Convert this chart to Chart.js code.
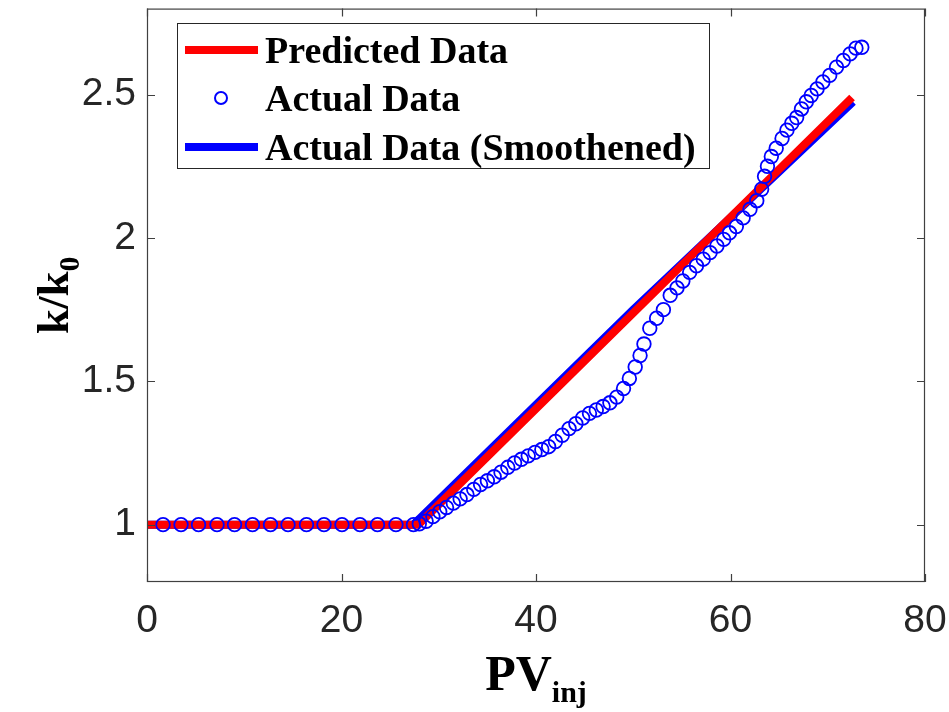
<!DOCTYPE html>
<html>
<head>
<meta charset="utf-8">
<script src="https://cdn.jsdelivr.net/npm/chart.js@4.4.0/dist/chart.umd.min.js"></script>
<style>
  html, body { margin: 0; padding: 0; background: #ffffff; }
  #wrap { width: 949px; height: 712px; position: relative; }
</style>
</head>
<body>
<div id="wrap"><canvas id="chartK"></canvas></div>
<script>
// ---- data ----
const xTicks = [0, 20, 40, 60, 80];
const yTicks = [1, 1.5, 2, 2.5];

const predX = [0, 27.9, 72.5];
const predY = [1, 1, 2.49];

const smoothX = [0, 27.4, 50, 72.6];
const smoothY = [1, 1, 1.75, 2.475];

const actualX = [
  1.65, 3.5, 5.3, 7.2, 9.0, 10.85, 12.7, 14.5, 16.4, 18.2, 20.05, 21.9, 23.7, 25.6, 27.4,
  28.0, 28.7, 29.4, 30.1, 30.8, 31.5, 32.2, 32.9, 33.6, 34.3, 35.0, 35.7, 36.4, 37.1, 37.8,
  38.5, 39.2, 39.9, 40.6, 41.3, 42.0, 42.7, 43.4, 44.1, 44.8, 45.5, 46.2, 46.9, 47.6, 48.3,
  49.0, 49.6, 50.2, 50.7, 51.1, 51.7, 52.4, 53.1, 53.8, 54.5, 55.1, 55.8, 56.5, 57.2, 57.9,
  58.6, 59.3, 59.9, 60.6, 61.3, 62.0, 62.7, 63.2, 63.5, 63.8, 64.2, 64.7, 65.3, 65.8, 66.3,
  66.8, 67.3, 67.8, 68.3, 68.9, 69.5, 70.2, 70.9, 71.6, 72.3, 72.9, 73.5
];
const actualY = [
  1, 1, 1, 1, 1, 1, 1, 1, 1, 1, 1, 1, 1, 1, 1,
  1.003, 1.012, 1.028, 1.045, 1.060, 1.075, 1.090, 1.105, 1.123, 1.140, 1.153, 1.167, 1.183, 1.200, 1.215,
  1.228, 1.240, 1.252, 1.262, 1.272, 1.290, 1.312, 1.335, 1.352, 1.372, 1.388, 1.400, 1.412, 1.425, 1.445,
  1.475, 1.51, 1.55, 1.59, 1.63, 1.685, 1.72, 1.75, 1.80, 1.826, 1.85, 1.88, 1.903, 1.926, 1.949,
  1.972, 1.995, 2.018, 2.04, 2.07, 2.10, 2.13, 2.17, 2.215, 2.25, 2.284, 2.313, 2.347, 2.376, 2.40,
  2.42, 2.45, 2.475, 2.497, 2.52, 2.544, 2.567, 2.596, 2.619, 2.642, 2.662, 2.665
];

const legendItems = [
  { label: 'Predicted Data', kind: 'line', color: '#ff0000' },
  { label: 'Actual Data', kind: 'circle', color: '#0000ff' },
  { label: 'Actual Data (Smoothened)', kind: 'line', color: '#0000ff' }
];

function toPoints(xs, ys) {
  return xs.map((x, i) => ({ x: x, y: ys[i] }));
}

const AXIS_COLOR = '#262626';
const SERIF = '"Liberation Serif", "Times New Roman", serif';
const SANS = '"Liberation Sans", Arial, sans-serif';

// frame, inward ticks, axis titles with subscripts, legend box
const decorPlugin = {
  id: 'decor',
  afterDatasetsDraw(chart) {
    const ctx = chart.ctx;
    const a = chart.chartArea;
    const xs = chart.scales.x;
    const ys = chart.scales.y;
    ctx.save();

    // frame
    ctx.strokeStyle = '#404040';
    ctx.lineWidth = 1.2;
    ctx.strokeRect(a.left + 0.5, a.top + 0.5, a.right - a.left - 1, a.bottom - a.top - 1);

    // inward ticks
    const tl = 8;
    ctx.beginPath();
    xTicks.forEach(v => {
      const px = Math.round(xs.getPixelForValue(v)) + 0.5;
      ctx.moveTo(px, a.bottom); ctx.lineTo(px, a.bottom - tl);
      ctx.moveTo(px, a.top); ctx.lineTo(px, a.top + tl);
    });
    yTicks.forEach(v => {
      const py = Math.round(ys.getPixelForValue(v)) + 0.5;
      ctx.moveTo(a.left, py); ctx.lineTo(a.left + tl, py);
      ctx.moveTo(a.right, py); ctx.lineTo(a.right - tl, py);
    });
    ctx.stroke();

    // x title: PV_inj
    ctx.fillStyle = '#000000';
    ctx.textBaseline = 'alphabetic';
    ctx.font = 'bold 50px ' + SERIF;
    const wPV = ctx.measureText('PV').width;
    ctx.font = 'bold 30px ' + SERIF;
    const wInj = ctx.measureText('inj').width;
    const cx = (a.left + a.right) / 2;
    const sx = cx - (wPV + wInj) / 2;
    ctx.font = 'bold 50px ' + SERIF;
    ctx.fillText('PV', sx, 690);
    ctx.font = 'bold 30px ' + SERIF;
    ctx.fillText('inj', sx + wPV, 702);

    // y title: k/k_0 (rotated)
    ctx.save();
    const cy = (a.top + a.bottom) / 2;
    ctx.translate(68, cy);
    ctx.rotate(-Math.PI / 2);
    ctx.font = 'bold 45px ' + SERIF;
    const wK = ctx.measureText('k/k').width;
    ctx.font = 'bold 30px ' + SERIF;
    const w0 = ctx.measureText('0').width;
    const kx = -(wK + w0) / 2;
    ctx.font = 'bold 45px ' + SERIF;
    ctx.fillText('k/k', kx, 0);
    ctx.font = 'bold 30px ' + SERIF;
    ctx.fillText('0', kx + wK, 11);
    ctx.restore();

    // legend
    const box = { x: 177.5, y: 23.5, w: 532, h: 145 };
    ctx.fillStyle = '#ffffff';
    ctx.fillRect(box.x, box.y, box.w, box.h);
    ctx.strokeStyle = AXIS_COLOR;
    ctx.lineWidth = 1;
    ctx.strokeRect(box.x, box.y, box.w, box.h);
    const rows = [50, 98, 147];
    ctx.font = 'bold 38px ' + SERIF;
    legendItems.forEach((it, i) => {
      const ry = rows[i];
      if (it.kind === 'line') {
        ctx.strokeStyle = it.color;
        ctx.lineWidth = 8;
        ctx.lineCap = 'butt';
        ctx.beginPath();
        ctx.moveTo(185, ry); ctx.lineTo(258, ry);
        ctx.stroke();
      } else {
        ctx.strokeStyle = it.color;
        ctx.lineWidth = 2;
        ctx.beginPath();
        ctx.arc(221, ry, 6, 0, Math.PI * 2);
        ctx.stroke();
      }
      ctx.fillStyle = '#000000';
      ctx.fillText(it.label, 265, ry + 13);
    });

    ctx.restore();
  }
};

// dataset 0 is painted last (on top), so circles first, smoothed line last
new Chart(document.getElementById('chartK').getContext('2d'), {
  type: 'scatter',
  data: {
    datasets: [
      {
        label: 'Actual Data',
        data: toPoints(actualX, actualY),
        showLine: false,
        pointStyle: 'circle',
        pointRadius: 6.8,
        pointBorderWidth: 1.8,
        pointBorderColor: '#0000ff',
        pointBackgroundColor: 'rgba(0,0,0,0)'
      },
      {
        label: 'Predicted Data',
        data: toPoints(predX, predY),
        showLine: true,
        borderColor: '#ff0000',
        borderWidth: 8,
        borderCapStyle: 'butt',
        pointRadius: 0,
        tension: 0
      },
      {
        label: 'Actual Data (Smoothened)',
        data: toPoints(smoothX, smoothY),
        showLine: true,
        borderColor: '#0000ff',
        borderWidth: 8,
        borderCapStyle: 'butt',
        pointRadius: 0,
        tension: 0
      }
    ]
  },
  options: {
    responsive: true,
    maintainAspectRatio: false,
    animation: false,
    layout: { padding: { top: 5, right: 24, left: 0, bottom: 0 } },
    plugins: {
      legend: { display: false },
      tooltip: { enabled: false }
    },
    scales: {
      x: {
        type: 'linear',
        min: 0,
        max: 80,
        afterBuildTicks: function(scale) { scale.ticks = xTicks.map(v => ({ value: v })); },
        afterFit: function(scale) {
          scale.height = 130;
          scale.paddingLeft = 0; scale.paddingRight = 0;
        },
        border: { display: false },
        grid: { display: false, drawTicks: false },
        ticks: {
          padding: 16,
          color: AXIS_COLOR,
          font: { family: SANS, size: 39 },
          callback: function(v) { return String(v); }
        }
      },
      y: {
        type: 'linear',
        min: 0.8,
        max: 2.8,
        afterBuildTicks: function(scale) { scale.ticks = yTicks.map(v => ({ value: v })); },
        afterFit: function(scale) {
          scale.width = 147;
          scale.paddingTop = 0; scale.paddingBottom = 0;
        },
        border: { display: false },
        grid: { display: false, drawTicks: false },
        ticks: {
          padding: 11,
          color: AXIS_COLOR,
          font: { family: SANS, size: 39 },
          callback: function(v) { return String(v); }
        }
      }
    }
  },
  plugins: [decorPlugin]
});
</script>
</body>
</html>
